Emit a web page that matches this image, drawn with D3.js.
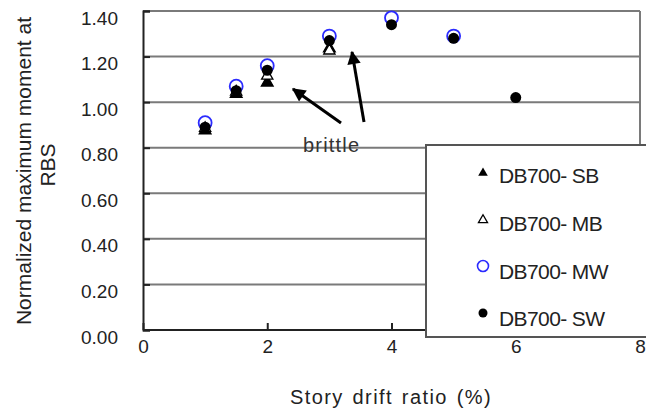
<!DOCTYPE html>
<html><head><meta charset="utf-8">
<script src="https://cdn.jsdelivr.net/npm/d3@7/dist/d3.min.js"></script>
<style>
body{margin:0;background:#fff;}
svg{display:block;font-family:"Liberation Sans",Arial,sans-serif;}
</style></head>
<body><svg id="c" width="646" height="414"></svg>
<script>
const xTicks = [0, 2, 4, 6, 8];
const yTicks = [0, 0.2, 0.4, 0.6, 0.8, 1.0, 1.2, 1.4];
const seriesNames = ["DB700- SB", "DB700- MB", "DB700- MW", "DB700- SW"];
const xSB = [1, 1.5, 2, 3];
const ySB = [0.88, 1.04, 1.09, 1.24];
const xMB = [1, 1.5, 2, 3];
const yMB = [0.89, 1.05, 1.12, 1.23];
const xMW = [1, 1.5, 2, 3, 4, 5];
const yMW = [0.91, 1.07, 1.16, 1.29, 1.37, 1.29];
const xSW = [1, 1.5, 2, 3, 4, 5, 6];
const ySW = [0.89, 1.05, 1.14, 1.27, 1.34, 1.28, 1.02];
const annotation = "brittle";
const xTitle = "Story drift ratio (%)";
const yTitle1 = "Normalized maximum moment at";
const yTitle2 = "RBS";

const svg = d3.select("#c");
const L = 143, R = 640, T = 11, B = 330;
const x = d3.scaleLinear().domain([0, 8]).range([L, R]);
const y = d3.scaleLinear().domain([0, 1.4]).range([B, T]);

// gridlines
svg.append("g").selectAll("line").data(yTicks.filter(d => d > 0)).join("line")
  .attr("x1", L).attr("x2", R).attr("y1", d => y(d)).attr("y2", d => y(d))
  .attr("stroke", "#7a7a7a").attr("stroke-width", 2);
// right border
svg.append("line").attr("x1", R).attr("x2", R).attr("y1", T).attr("y2", B)
  .attr("stroke", "#7a7a7a").attr("stroke-width", 2);

// axes
const yAxis = svg.append("g").attr("transform", `translate(${L},0)`)
  .call(d3.axisLeft(y).tickValues(yTicks).tickSize(-7).tickPadding(25).tickFormat(d3.format(".2f")));
const xAxis = svg.append("g").attr("transform", `translate(0,${B})`)
  .call(d3.axisBottom(x).tickValues(xTicks).tickSize(-7).tickPadding(10).tickFormat(d3.format("d")));
[yAxis, xAxis].forEach(a => {
  a.select(".domain").attr("stroke", "#222").attr("stroke-width", 2);
  a.selectAll(".tick line").attr("stroke", "#222").attr("stroke-width", 2);
  a.selectAll(".tick text").attr("fill", "#222").attr("font-size", 19)
    .attr("font-family", "'Liberation Sans',Arial,sans-serif");
});
yAxis.selectAll(".tick text").attr("dy", "0.32em").attr("y", 7);
xAxis.select(".domain").attr("d", `M${L},0H${R}`);

// marker shapes
const triUp = d3.symbol().type(d3.symbolTriangle);
function drawTri(g, xs, ys, fill, size) {
  g.selectAll("path").data(xs).join("path")
    .attr("d", triUp.size(size))
    .attr("transform", (d, i) => `translate(${x(d)},${y(ys[i]) + 1})`)
    .attr("fill", fill).attr("stroke", "#000").attr("stroke-width", 1.3);
}
drawTri(svg.append("g"), xSB, ySB, "#000", 60);
drawTri(svg.append("g"), xMB, yMB, "#fff", 55);
svg.append("g").selectAll("circle").data(xMW).join("circle")
  .attr("cx", d => x(d)).attr("cy", (d, i) => y(yMW[i])).attr("r", 6.5)
  .attr("fill", "none").attr("stroke", "#2b2bff").attr("stroke-width", 1.8);
svg.append("g").selectAll("circle").data(xSW).join("circle")
  .attr("cx", d => x(d)).attr("cy", (d, i) => y(ySW[i])).attr("r", 5.5)
  .attr("fill", "#000");

// arrows
const defs = svg.append("defs");
defs.append("marker").attr("id", "ah").attr("viewBox", "0 0 10 10")
  .attr("refX", 9).attr("refY", 5).attr("markerWidth", 7).attr("markerHeight", 4.5)
  .attr("markerUnits", "strokeWidth").attr("orient", "auto")
  .append("path").attr("d", "M0,0L10,5L0,10Z").attr("fill", "#000");
const arrows = [[364, 122, 352, 52], [341, 123, 293, 89]];
svg.append("g").selectAll("line").data(arrows).join("line")
  .attr("x1", d => d[0]).attr("y1", d => d[1]).attr("x2", d => d[2]).attr("y2", d => d[3])
  .attr("stroke", "#000").attr("stroke-width", 3).attr("marker-end", "url(#ah)");
svg.append("text").attr("x", 303).attr("y", 152).attr("font-size", 20)
  .attr("letter-spacing", 1.2).attr("fill", "#333").text(annotation);

// legend
const lg = svg.append("g");
lg.append("rect").attr("x", 426).attr("y", 145).attr("width", 240).attr("height", 192)
  .attr("fill", "#fff").attr("stroke", "#555").attr("stroke-width", 2);
const rows = [183, 231, 279, 326];
const lx = 483;
lg.append("path").attr("d", triUp.size(40)).attr("transform", `translate(${lx},${rows[0] - 10})`).attr("fill", "#000");
lg.append("path").attr("d", triUp.size(36)).attr("transform", `translate(${lx},${rows[1] - 11})`)
  .attr("fill", "#fff").attr("stroke", "#000").attr("stroke-width", 1.3);
lg.append("circle").attr("cx", lx).attr("cy", rows[2] - 13).attr("r", 5.5)
  .attr("fill", "none").attr("stroke", "#2b2bff").attr("stroke-width", 1.6);
lg.append("circle").attr("cx", lx).attr("cy", rows[3] - 13).attr("r", 4.5).attr("fill", "#000");
lg.selectAll("text").data(seriesNames).join("text")
  .attr("x", 499).attr("y", (d, i) => rows[i]).attr("font-size", 21)
  .attr("letter-spacing", -0.6).attr("fill", "#222").text(d => d);

// titles
svg.append("text").attr("x", 391).attr("y", 404).attr("text-anchor", "middle")
  .attr("font-size", 20).attr("letter-spacing", 1.4).attr("word-spacing", 2).attr("fill", "#222").text(xTitle);
svg.append("text").attr("transform", "translate(31,171) rotate(-90)").attr("text-anchor", "middle")
  .attr("font-size", 21).attr("fill", "#222").text(yTitle1);
svg.append("text").attr("transform", "translate(55,165) rotate(-90)").attr("text-anchor", "middle")
  .attr("font-size", 21).attr("fill", "#222").text(yTitle2);
</script></body></html>
